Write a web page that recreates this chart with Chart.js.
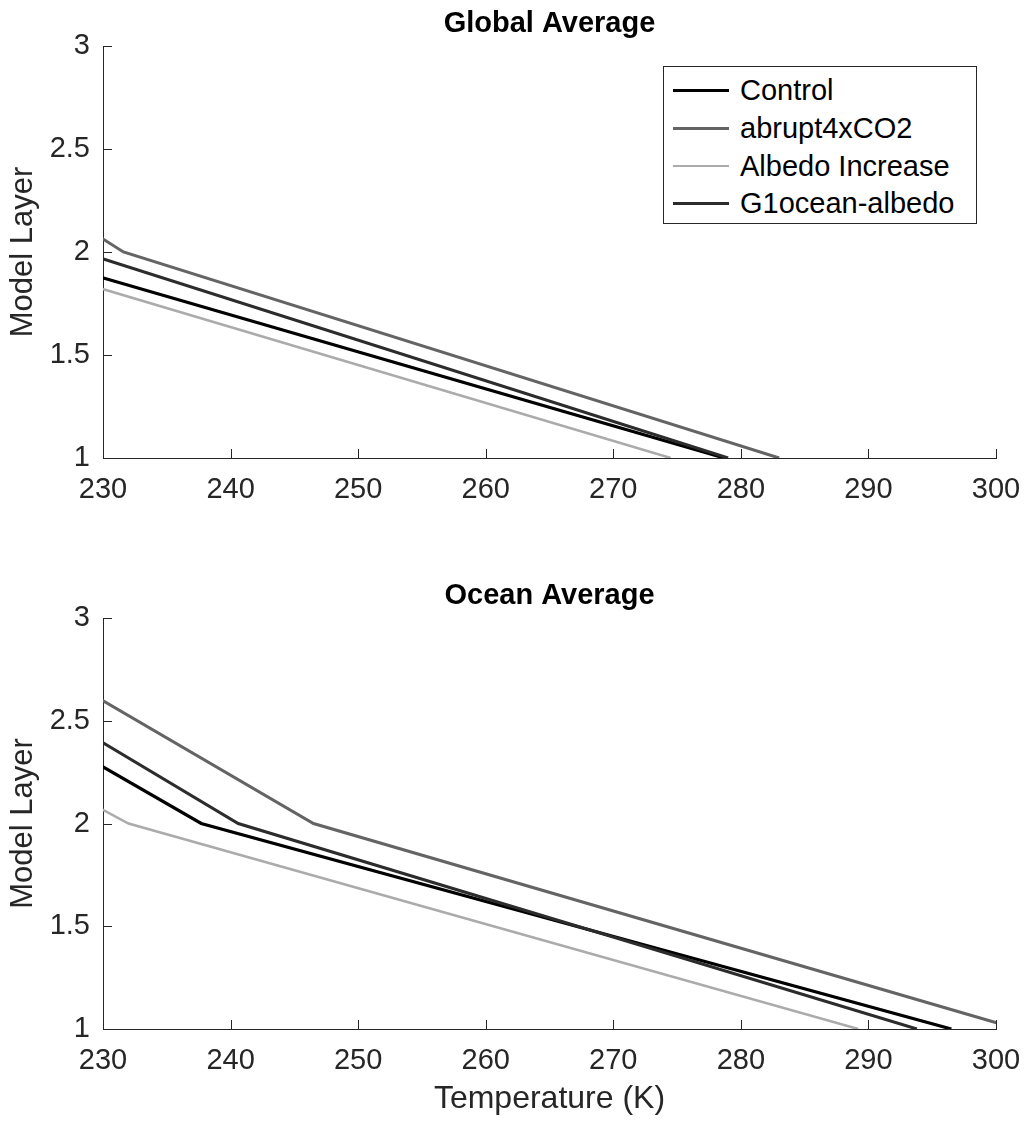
<!DOCTYPE html>
<html>
<head>
<meta charset="utf-8">
<script src="https://cdn.jsdelivr.net/npm/chart.js@4.4.0/dist/chart.umd.min.js"></script>
<style>
  body { margin: 0; background: #fff; }
  #page { position: relative; width: 1024px; height: 1123px; overflow: hidden; }
  canvas { position: absolute; left: 0; }
  #globalCanvas { top: 0; }
  #oceanCanvas { top: 560px; }
  .legend { position: absolute; left: 663px; top: 66px; width: 312px; height: 156px;
            border: 1px solid #262626; background: #fff;
            font-family: 'Liberation Sans', Arial, sans-serif; font-size: 29px; color: #000; }
  .swatch { position: absolute; left: 9px; width: 56px; }
  .label { position: absolute; left: 76px; white-space: nowrap; line-height: 29px; }
</style>
</head>
<body>
<div id="page">
  <canvas id="globalCanvas" width="1024" height="540"></canvas>
  <canvas id="oceanCanvas" width="1024" height="563"></canvas>
  <div class="legend" id="legend"></div>
</div>
<script>
// --- DATOS ---
const layers = [1, 2, 3];
const seriesNames = ['Control', 'abrupt4xCO2', 'Albedo Increase', 'G1ocean-albedo'];
const seriesColors = ['#000000', '#646464', '#ababab', '#2c2c2c'];
const seriesWidths = [3.2, 3, 2.5, 3];

// temperatura (K) por capa; null = fuera del gráfico
const globalControl = [278.7, 223.0, null];
const globalAbrupt = [283.0, 231.6, 206.2];
const globalAlbedo = [274.5, 220.2, null];
const globalG1 = [279.0, 228.3, null];

const oceanControl = [296.5, 237.7, 209.8];
const oceanAbrupt = [301.7, 246.5, 218.9];
const oceanAlbedo = [289.2, 232.0, 202.0];
const oceanG1 = [293.8, 240.6, 213.6];

const xTicksRange = [230, 300, 10];
const yTicksRange = [1, 3, 0.5];

const FONT = "'Liberation Sans', Arial, sans-serif";
Chart.defaults.font.family = FONT;

// ticks hacia dentro + título estilo MATLAB
const matlabAxes = {
    id: 'matlabAxes',
    beforeDatasetsDraw(chart) {
        const { ctx, chartArea: a, scales: { x, y } } = chart;
        ctx.save();
        ctx.strokeStyle = '#262626';
        ctx.lineWidth = 1;
        ctx.beginPath();
        x.ticks.forEach(t => {
            const px = Math.round(x.getPixelForValue(t.value)) + 0.5;
            ctx.moveTo(px, a.bottom);
            ctx.lineTo(px, a.bottom - 9);
        });
        y.ticks.forEach(t => {
            const py = Math.round(y.getPixelForValue(t.value)) + 0.5;
            ctx.moveTo(a.left, py);
            ctx.lineTo(a.left + 9, py);
        });
        ctx.stroke();
        ctx.restore();
    },
    afterDraw(chart, args, opts) {
        const { ctx, chartArea: a } = chart;
        ctx.save();
        ctx.fillStyle = '#000';
        ctx.font = 'bold 29px ' + FONT;
        ctx.textAlign = 'center';
        ctx.textBaseline = 'middle';
        ctx.fillText(opts.title, (a.left + a.right) / 2, opts.titleY);
        ctx.restore();
    }
};

function makeChart(id, temps, title, titleY, padTop, xAxisHeight, showXTitle) {
    return new Chart(document.getElementById(id), {
        type: 'line',
        data: {
            datasets: seriesNames.map((name, i) => ({
                label: name,
                data: layers.map((l, j) => ({ x: temps[i][j], y: l })).filter(p => p.x !== null),
                borderColor: seriesColors[i],
                borderWidth: seriesWidths[i],
                pointRadius: 0,
                fill: false,
                tension: 0,
                order: 3 - i
            }))
        },
        options: {
            responsive: false,
            animation: false,
            layout: { padding: { top: padTop, right: 28, left: 0, bottom: 0 } },
            plugins: {
                legend: { display: false },
                tooltip: { enabled: false },
                matlabAxes: { title, titleY }
            },
            scales: {
                x: {
                    type: 'linear', min: xTicksRange[0], max: xTicksRange[1],
                    ticks: { stepSize: xTicksRange[2], color: '#262626', font: { size: 29 }, padding: 15, maxRotation: 0 },
                    grid: { display: false, drawTicks: false },
                    border: { color: '#262626', width: 1 },
                    title: { display: showXTitle, text: 'Temperature (K)', color: '#262626', font: { size: 32 }, padding: { top: 0, bottom: 5 } },
                    afterFit: s => { s.height = xAxisHeight; s.paddingLeft = 0; s.paddingRight = 0; }
                },
                y: {
                    type: 'linear', min: yTicksRange[0], max: yTicksRange[1],
                    ticks: { stepSize: yTicksRange[2], color: '#262626', font: { size: 29 }, padding: 13,
                             callback: v => String(Number(v)) },
                    grid: { display: false, drawTicks: false },
                    border: { color: '#262626', width: 1 },
                    title: { display: true, text: 'Model Layer', color: '#262626', font: { size: 31 }, padding: { top: 5, bottom: 0 } },
                    afterFit: s => { s.width = 103; s.paddingTop = 0; s.paddingBottom = 0; }
                }
            }
        },
        plugins: [matlabAxes]
    });
}

makeChart('globalCanvas', [globalControl, globalAbrupt, globalAlbedo, globalG1], 'Global Average', 23.5, 46, 82, false);
makeChart('oceanCanvas', [oceanControl, oceanAbrupt, oceanAlbedo, oceanG1], 'Ocean Average', 35.5, 58, 94, true);

// --- LEYENDA ---
const legendEl = document.getElementById('legend');
const rowCenters = [23.3, 61.3, 99.2, 136.8];
seriesNames.forEach((name, i) => {
    legendEl.innerHTML += `
        <div class="swatch" style="top:${rowCenters[i] - seriesWidths[i] / 2}px; height:${seriesWidths[i]}px; background:${seriesColors[i]}"></div>
        <div class="label" style="top:${rowCenters[i] - 14.5}px">${name}</div>`;
});
</script>
</body>
</html>
